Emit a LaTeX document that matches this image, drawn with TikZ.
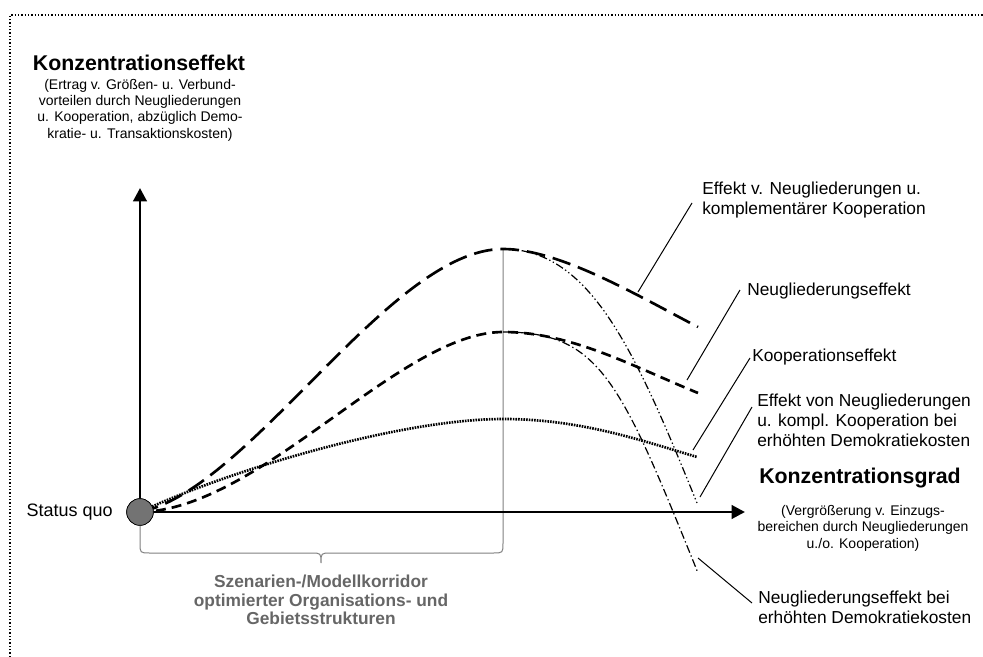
\documentclass[tikz,border=0pt]{standalone}
\usepackage{fontspec}
\setmainfont{Liberation Sans}
\usetikzlibrary{arrows.meta}

\tikzset{
  axis/.style={line width=2.2pt,-{Triangle[length=10pt,width=10pt]}},
  longdash/.style={line width=2pt,dash pattern=on 14pt off 6pt},
  middash/.style={line width=2pt,dash pattern=on 7.5pt off 4.5pt},
  dots/.style={line width=2pt,dash pattern=on 1.2pt off 0.8pt},
  ddotdash/.style={line width=0.9pt,dash pattern=on 6pt off 2pt on 1pt off 2pt on 1pt off 2pt},
  dotdash/.style={line width=0.9pt,dash pattern=on 6pt off 2.2pt on 1pt off 2.2pt},
  leader/.style={line width=0.75pt},
  corridor/.style={draw=black!50,line width=0.75pt},
  head/.style={font=\bfseries\fontsize{16}{19}\selectfont},
  subtxt/.style={font=\fontsize{10.5}{12.3}\selectfont,align=center},
  lbl/.style={font=\fontsize{13}{15}\selectfont,align=left,anchor=west}
}

\begin{document}
\begin{tikzpicture}[x=0.75pt,y=-0.75pt]
        \useasboundingbox (0,0) rectangle (983,657);

        % frame
        \draw[line width=1.4pt,dash pattern=on 1pt off 1.5pt] (10,657) -- (10,15) -- (983,15);

        \coordinate (xtip) at (745,512);
        \coordinate (ytip) at (140,188);
        \coordinate (pkA)  at (503,249);
        \coordinate (pkB)  at (503,332);
        \coordinate (pkC)  at (503,419);

        \node[circle,draw,fill=black!55,line width=0.5pt,minimum size=20pt,inner sep=0pt] (sq) at (140,512) {};

        % corridor brace
        \draw[corridor] (140,517) -- (140,543) .. controls (140,553) .. (150,553) -- (311,553)
          .. controls (321,553) .. (321,563) .. controls (321,553) .. (331,553) -- (493,553)
          .. controls (503,553) .. (503,543) -- (pkA);

        % curves
        \draw[longdash] (sq.center) .. controls (250,490) and (390,249) .. (pkA)
          .. controls (560,249) and (640,297) .. (698,327);
        \draw[middash] (sq.center) .. controls (260,510) and (400,332) .. (pkB)
          .. controls (570,332) and (630,365) .. (698,393);
        \draw[dots] (sq.center) .. controls (230,470) and (400,419) .. (pkC)
          .. controls (580,419) and (640,440) .. (697,457);
        \draw[ddotdash] (pkA) .. controls (590,249) and (635,350) .. (697,503);
        \draw[dotdash] (pkB) .. controls (600,332) and (620,380) .. (698,573);

        % axes
        \draw[axis] (sq.center) -- (xtip);
        \draw[axis] (sq.center) -- (ytip);
        \node[circle,draw,fill=black!55,line width=0.5pt,minimum size=20pt,inner sep=0pt] at (sq) {};

        % leaders
        \coordinate (cA) at (638,292);  \coordinate (tA) at (692,203);
        \coordinate (cB) at (687,380);  \coordinate (tB) at (740,290);
        \coordinate (cC) at (693,450);  \coordinate (tC) at (750,358);
        \coordinate (cD) at (700,497);  \coordinate (tD) at (752,407);
        \coordinate (cE) at (698,558);  \coordinate (tE) at (752,603);
        \draw[leader] (cA) -- (tA);
        \draw[leader] (cB) -- (tB);
        \draw[leader] (cC) -- (tC);
        \draw[leader] (cD) -- (tD);
        \draw[leader] (cE) -- (tE);

        \begin{scope}[every node/.style={inner sep=0pt}]
          \node[head] (yhead) at (139,63) {Konzentrationseffekt};
          \node[subtxt] (ysub) at (140,110) {(Ertrag v. Größen- u. Verbund-\\vorteilen durch Neugliederungen\\u. Kooperation, abzüglich Demo-\\kratie- u. Transaktionskosten)};
          \node[head] (xhead) at (860,478) {Konzentrationsgrad};
          \node[subtxt] (xsub) at (863,528) {(Vergrößerung v. Einzugs-\\bereichen durch Neugliederungen\\u./o. Kooperation)};
          \node[font=\fontsize{13.5}{15}\selectfont,anchor=east] (sqlbl) at (113,512) {Status quo};
          \node[lbl] (lblA) at (702,200) {Effekt v. Neugliederungen u.\\komplementärer Kooperation};
          \node[lbl] (lblB) at (747,291) {Neugliederungseffekt};
          \node[lbl] (lblC) at (752,357) {Kooperationseffekt};
          \node[lbl] (lblD) at (757,420) {Effekt von Neugliederungen\\u. kompl. Kooperation bei\\erhöhten Demokratiekosten};
          \node[lbl] (lblE) at (758,607) {Neugliederungseffekt bei\\erhöhten Demokratiekosten};
          \node[font=\bfseries\fontsize{13}{14}\selectfont,align=center,text=black!60] (corr) at (321,600) {Szenarien-/Modellkorridor\\optimierter Organisations- und\\Gebietsstrukturen};
        \end{scope}

      \end{tikzpicture}
\end{document}
